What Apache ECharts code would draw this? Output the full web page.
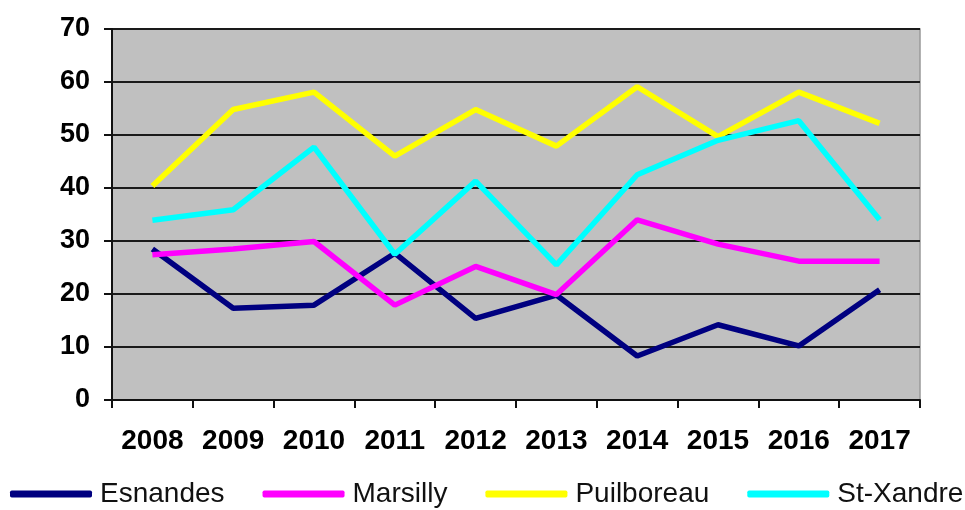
<!DOCTYPE html>
<html>
<head>
<meta charset="utf-8">
<script src="https://cdn.jsdelivr.net/npm/echarts@6/dist/echarts.min.js"></script>
<style>
  html, body { margin: 0; padding: 0; background: #fff; }
  #chart { width: 965px; height: 510px; }
</style>
</head>
<body>
<div id="chart"></div>
<script>
var years = ['2008', '2009', '2010', '2011', '2012', '2013', '2014', '2015', '2016', '2017'];
var esnandes   = [28.5, 17.3, 17.9, 27.7, 15.4, 19.8, 8.3, 14.2, 10.2, 20.8];
var marsilly   = [27.4, 28.5, 29.9, 17.9, 25.2, 19.9, 34.0, 29.4, 26.2, 26.2];
var puilboreau = [40.4, 54.8, 58.1, 46.0, 54.8, 47.9, 59.1, 49.7, 58.1, 52.2];
var stXandre   = [33.9, 35.9, 47.7, 27.5, 41.3, 25.5, 42.5, 49.0, 52.7, 34.0];

var chart = echarts.init(document.getElementById('chart'));
var font = 'Liberation Sans, Arial, sans-serif';

function serie(name, data, color) {
    return {
        name: name,
        type: 'line',
        data: data,
        symbol: 'none',
        lineStyle: { color: color, width: 5.5 },
        itemStyle: { color: color }
    };
}

chart.setOption({
    animation: false,
    backgroundColor: '#fff',
    grid: {
        left: 112, right: 45, top: 29, bottom: 110,
        show: true,
        backgroundColor: '#c0c0c0',
        borderColor: '#999',
        borderWidth: 1.5
    },
    legend: {
        bottom: 2,
        left: 10,
        width: 955,
        padding: 0,
        itemWidth: 82,
        itemHeight: 7,
        itemGap: 38,
        icon: 'roundRect',
        textStyle: { fontFamily: font, fontSize: 28, color: '#111', padding: [0, 0, 0, 3] },
        data: ['Esnandes', 'Marsilly', 'Puilboreau', 'St-Xandre']
    },
    xAxis: {
        type: 'category',
        data: years,
        boundaryGap: true,
        axisLine: { lineStyle: { color: '#111', width: 2 } },
        axisTick: { show: true, length: 8, lineStyle: { color: '#111', width: 2 } },
        axisLabel: { interval: 0, fontFamily: font, fontSize: 28, fontWeight: 'bold', color: '#000', margin: 27 }
    },
    yAxis: {
        type: 'value',
        min: 0, max: 70, interval: 10,
        axisLine: { show: true, lineStyle: { color: '#111', width: 2 } },
        axisTick: { show: true, length: 8, lineStyle: { color: '#111', width: 2 } },
        axisLabel: { fontFamily: font, fontSize: 27, fontWeight: 'bold', color: '#000', margin: 22 },
        splitLine: { lineStyle: { color: '#1a1a1a', width: 2 } }
    },
    series: [
        serie('Esnandes', esnandes, '#000080'),
        serie('Marsilly', marsilly, '#ff00ff'),
        serie('Puilboreau', puilboreau, '#ffff00'),
        serie('St-Xandre', stXandre, '#00ffff')
    ]
});
</script>
</body>
</html>
